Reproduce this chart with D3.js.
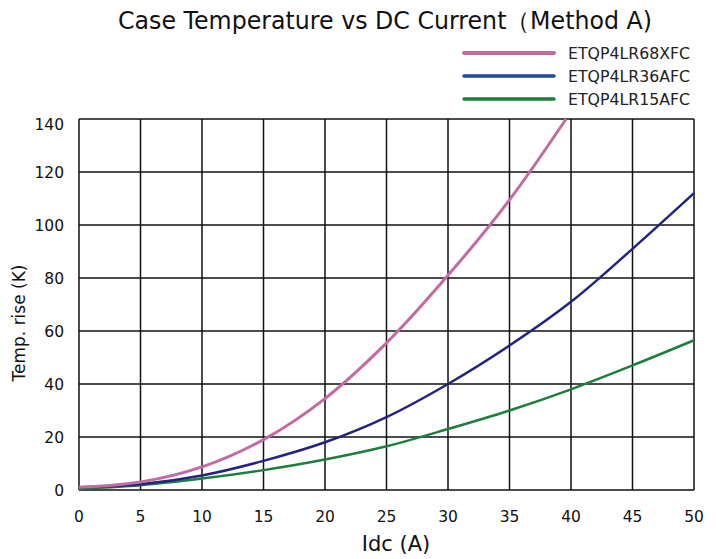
<!DOCTYPE html>
<html>
<head>
<meta charset="utf-8" />
<title></title>
<style>
html, body {
    padding: 0px;
    margin: 0px;
    background: #fff;
}
text {
    font-family: "DejaVu Sans", Verdana, sans-serif;
}
.grid line {
    stroke: #111;
    stroke-width: 1.5;
}
</style>
</head>
<body>
<div id="chart"></div>
<script src="https://cdnjs.cloudflare.com/ajax/libs/d3/7.8.5/d3.min.js"></script>
<script>
!(function(){
    "use strict"

    var xTicks = [0, 5, 10, 15, 20, 25, 30, 35, 40, 45, 50];
    var yTicks = [0, 20, 40, 60, 80, 100, 120, 140];

    var idc68 = [0, 5, 10, 15, 20, 25, 30, 35, 39.6];
    var rise68 = [1, 3, 8.7, 19, 34.5, 55.5, 81, 109.5, 140];

    var idc36 = [0, 5, 10, 15, 20, 25, 30, 35, 40, 45, 50];
    var rise36 = [1, 2.2, 5.5, 11, 18, 27.5, 40, 54.5, 71, 91, 112];

    var idc15 = [0, 5, 10, 15, 20, 25, 30, 35, 40, 45, 50];
    var rise15 = [0.5, 1.8, 4.3, 7.5, 11.5, 16.5, 23, 30, 38, 47, 56.5];

    var seriesNames = ["ETQP4LR68XFC", "ETQP4LR36AFC", "ETQP4LR15AFC"];
    var lineColors = ["#c46aa3", "#22247f", "#1c7f3d"];
    var legendColors = ["#c46aa3", "#1f4a9e", "#1c7f3d"];
    var lineWidths = [3, 2.5, 2.5];

    var W = 716, H = 559;
    var x0 = 79, x1 = 694, yTop = 119, yBot = 490;

    var svg = d3.select("#chart").append("svg")
        .attr("width", W).attr("height", H);

    var x = d3.scaleLinear().domain([0, 50]).range([x0, x1]);
    var y = d3.scaleLinear().domain([0, 140]).range([yBot, yTop]);

    var grid = svg.append("g").attr("class", "grid");
    grid.selectAll("line.v").data(xTicks).enter().append("line")
        .attr("x1", function(d){ return x(d) }).attr("x2", function(d){ return x(d) })
        .attr("y1", yTop).attr("y2", yBot);
    grid.selectAll("line.h").data(yTicks).enter().append("line")
        .attr("y1", function(d){ return y(d) }).attr("y2", function(d){ return y(d) })
        .attr("x1", x0).attr("x2", x1);

    svg.selectAll("text.xt").data(xTicks).enter().append("text")
        .attr("x", function(d){ return x(d) }).attr("y", 522)
        .attr("text-anchor", "middle").attr("font-size", 15.5).attr("fill", "#111")
        .text(function(d){ return d });
    svg.selectAll("text.yt").data(yTicks).enter().append("text")
        .attr("x", 64).attr("y", function(d){ return y(d) + (d == 140 ? 11 : 6) })
        .attr("text-anchor", "end").attr("font-size", 15.5).attr("fill", "#111")
        .text(function(d){ return d });

    svg.append("clipPath").attr("id", "clip").append("rect")
        .attr("x", x0).attr("y", yTop - 2).attr("width", x1 - x0 + 2).attr("height", yBot - yTop + 4);

    var line = d3.line()
        .x(function(d){ return x(d[0]) })
        .y(function(d){ return y(d[1]) })
        .curve(d3.curveCatmullRom);

    var series = [d3.zip(idc68, rise68), d3.zip(idc36, rise36), d3.zip(idc15, rise15)];
    var order = [2, 1, 0];
    order.forEach(function(i){
        svg.append("path")
            .attr("d", line(series[i]))
            .attr("fill", "none")
            .attr("stroke", lineColors[i])
            .attr("stroke-width", lineWidths[i])
            .attr("clip-path", "url(#clip)");
    });

    // legend
    var lg = svg.append("g");
    seriesNames.forEach(function(n, i){
        var ly = 53 + i * 23;
        lg.append("line").attr("x1", 464).attr("x2", 554).attr("y1", ly).attr("y2", ly)
            .attr("stroke", legendColors[i]).attr("stroke-width", i == 0 ? 4 : 3.5)
            .attr("stroke-linecap", "round");
        lg.append("text").attr("x", 568).attr("y", ly + 5.5)
            .attr("font-size", 15).attr("fill", "#222")
            .attr("textLength", 122).attr("lengthAdjust", "spacingAndGlyphs")
            .text(n);
    });

    svg.append("text").attr("x", 118).attr("y", 29)
        .attr("font-size", 24).attr("fill", "#111")
        .attr("textLength", 534).attr("lengthAdjust", "spacingAndGlyphs")
        .text("Case Temperature vs DC Current（Method A)");

    svg.append("text").attr("x", 396).attr("y", 551)
        .attr("text-anchor", "middle").attr("font-size", 21).attr("fill", "#111")
        .text("Idc (A)");

    svg.append("text")
        .attr("transform", "translate(25,323) rotate(-90)")
        .attr("text-anchor", "middle").attr("font-size", 17).attr("fill", "#111")
        .text("Temp. rise (K)");
}());
</script>
</body>
</html>
